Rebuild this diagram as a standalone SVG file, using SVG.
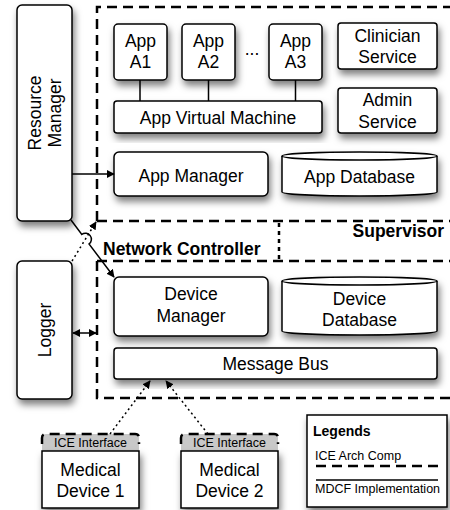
<svg xmlns="http://www.w3.org/2000/svg" width="450" height="510" viewBox="0 0 450 510">
<defs>
<filter id="sh" x="-30%" y="-30%" width="160%" height="160%">
<feDropShadow dx="2" dy="5" stdDeviation="3.5" flood-color="#000" flood-opacity="0.5"/>
</filter>
<marker id="ah" viewBox="0 0 10 10" refX="9" refY="5" markerWidth="8" markerHeight="8" markerUnits="userSpaceOnUse" orient="auto-start-reverse">
<path d="M0,0 L10,5 L0,10 Z" fill="#000"/>
</marker>
</defs>
<style>
.box{fill:#fff;stroke:#000;stroke-width:1.5}
.t{font-family:"Liberation Sans",Arial,sans-serif;font-size:17.5px;fill:#000;text-anchor:middle}
.b{font-family:"Liberation Sans",Arial,sans-serif;font-size:17.5px;font-weight:bold;fill:#000}
.s{font-family:"Liberation Sans",Arial,sans-serif;font-size:12.5px;fill:#000}
.dash{fill:none;stroke:#000;stroke-width:2.5;stroke-dasharray:10 6}
.dot{fill:none;stroke:#000;stroke-width:1.5;stroke-dasharray:2 3}
.ln{fill:none;stroke:#000;stroke-width:1.5}
</style>
<rect width="450" height="510" fill="#fff"/>

<g id="regions">
<path class="dash" d="M97,221 L97,7 L452,7"/>
<path class="dash" d="M97,221 L452,221"/>
<path class="dash" d="M97,261 L452,261"/>
<path class="dash" d="M97,261 L97,398 L452,398"/>
<path fill="none" stroke="#000" stroke-width="2.5" stroke-dasharray="4 4" d="M279,223 L279,261"/>
<text class="b" x="103" y="255">Network Controller</text>
<text class="b" x="444" y="237" text-anchor="end">Supervisor</text>
</g>

<g id="resource-manager">
<rect class="box" filter="url(#sh)" x="17" y="5" width="55" height="216" rx="5"/>
<text class="t" transform="translate(44.5,113) rotate(-90)"><tspan x="0" y="-4">Resource</tspan><tspan x="0" y="16">Manager</tspan></text>
</g>
<g id="logger">
<rect class="box" filter="url(#sh)" x="17" y="261" width="55" height="138" rx="5"/>
<text class="t" transform="translate(44.5,330) rotate(-90)" x="0" y="6">Logger</text>
</g>

<g id="app-a1"><rect class="box" filter="url(#sh)" x="114" y="24" width="53" height="56" rx="4"/>
<text class="t" x="140.5" y="47">App</text><text class="t" x="140.5" y="68">A1</text></g>
<g id="app-a2"><rect class="box" filter="url(#sh)" x="182" y="24" width="53" height="56" rx="4"/>
<text class="t" x="208.5" y="47">App</text><text class="t" x="208.5" y="68">A2</text></g>
<g id="dots"><text class="t" x="252" y="55">...</text></g>
<g id="app-a3"><rect class="box" filter="url(#sh)" x="269" y="24" width="53" height="56" rx="4"/>
<text class="t" x="295.5" y="47">App</text><text class="t" x="295.5" y="68">A3</text></g>
<g id="clinician-service"><rect class="box" filter="url(#sh)" x="338" y="23" width="99" height="46" rx="3"/>
<text class="t" x="387.5" y="42">Clinician</text><text class="t" x="387.5" y="63">Service</text></g>
<g id="admin-service"><rect class="box" filter="url(#sh)" x="338" y="88" width="99" height="45" rx="3"/>
<text class="t" x="387.5" y="106">Admin</text><text class="t" x="387.5" y="128">Service</text></g>
<g id="app-vm"><rect class="box" filter="url(#sh)" x="114" y="101" width="208" height="32" rx="3"/>
<text class="t" x="218" y="124">App Virtual Machine</text></g>
<g id="app-manager"><rect class="box" filter="url(#sh)" x="114" y="152" width="154" height="44" rx="5"/>
<text class="t" x="191" y="182">App Manager</text></g>
<g id="app-database">
<path class="box" filter="url(#sh)" d="M282,156 A77.5,4 0 0 1 437,156 L437,192 A77.5,4 0 0 1 282,192 Z"/>
<path class="ln" d="M282,156 A77.5,4 0 0 0 437,156"/>
<text class="t" x="359.5" y="183">App Database</text></g>

<g id="device-manager"><rect class="box" filter="url(#sh)" x="114" y="277" width="154" height="59" rx="5"/>
<text class="t" x="191" y="300">Device</text><text class="t" x="191" y="322">Manager</text></g>
<g id="device-database">
<path class="box" filter="url(#sh)" d="M282,281 A77.5,4 0 0 1 437,281 L437,331 A77.5,4 0 0 1 282,331 Z"/>
<path class="ln" d="M282,281 A77.5,4 0 0 0 437,281"/>
<text class="t" x="359.5" y="305">Device</text><text class="t" x="359.5" y="326">Database</text></g>
<g id="message-bus"><rect class="box" filter="url(#sh)" x="114" y="348" width="323" height="31" rx="3"/>
<text class="t" x="275.5" y="370">Message Bus</text></g>

<g id="medical-device-1">
<path d="M42,451 L42,438 Q42,434 46,434 L135,434 Q139,434 139,438 L139,451 Z" fill="#c8c8c8"/>
<path class="dash" stroke-width="2" stroke-dasharray="7 4" d="M42,444 L42,438 Q42,434 46,434 L135,434 Q139,434 139,438 L139,444"/>
<rect class="box" filter="url(#sh)" x="42" y="451" width="97" height="57"/>
<text class="s" x="90.5" y="447" text-anchor="middle">ICE Interface</text>
<text class="t" x="90.5" y="476">Medical</text><text class="t" x="90.5" y="497">Device 1</text>
</g>
<g id="medical-device-2">
<path d="M181,451 L181,438 Q181,434 185,434 L274,434 Q278,434 278,438 L278,451 Z" fill="#c8c8c8"/>
<path class="dash" stroke-width="2" stroke-dasharray="7 4" d="M181,444 L181,438 Q181,434 185,434 L274,434 Q278,434 278,438 L278,444"/>
<rect class="box" filter="url(#sh)" x="181" y="451" width="97" height="57"/>
<text class="s" x="229.5" y="447" text-anchor="middle">ICE Interface</text>
<text class="t" x="229.5" y="476">Medical</text><text class="t" x="229.5" y="497">Device 2</text>
</g>

<g id="legend">
<rect class="box" filter="url(#sh)" x="307" y="415" width="140" height="92"/>
<text class="b" x="313" y="436" style="font-size:14px">Legends</text>
<text class="s" x="315" y="460">ICE Arch Comp</text>
<path class="dash" d="M316,466 L440,466"/>
<path class="ln" stroke-width="2.5" d="M316,480 L438,480"/>
<text class="s" x="315" y="493">MDCF Implementation</text>
</g>

<g id="connectors">
<path class="ln" d="M140,80 V101 M208.5,80 V101 M295.5,80 V101"/>
<path class="ln" marker-end="url(#ah)" d="M72,174 L114,174"/>
<path class="ln" marker-start="url(#ah)" marker-end="url(#ah)" d="M73,333 L96,333"/>
<path class="dot" marker-end="url(#ah)" d="M72,261 L96,222"/>
<path class="ln" marker-end="url(#ah)" d="M71,220 L81.8,234.4 A6,6 0 0 1 89,244 L114,277"/>
<path class="dot" marker-end="url(#ah)" d="M110,434 L150,381"/>
<path class="dot" marker-end="url(#ah)" d="M208,434 L166,381"/>
</g>
</svg>
